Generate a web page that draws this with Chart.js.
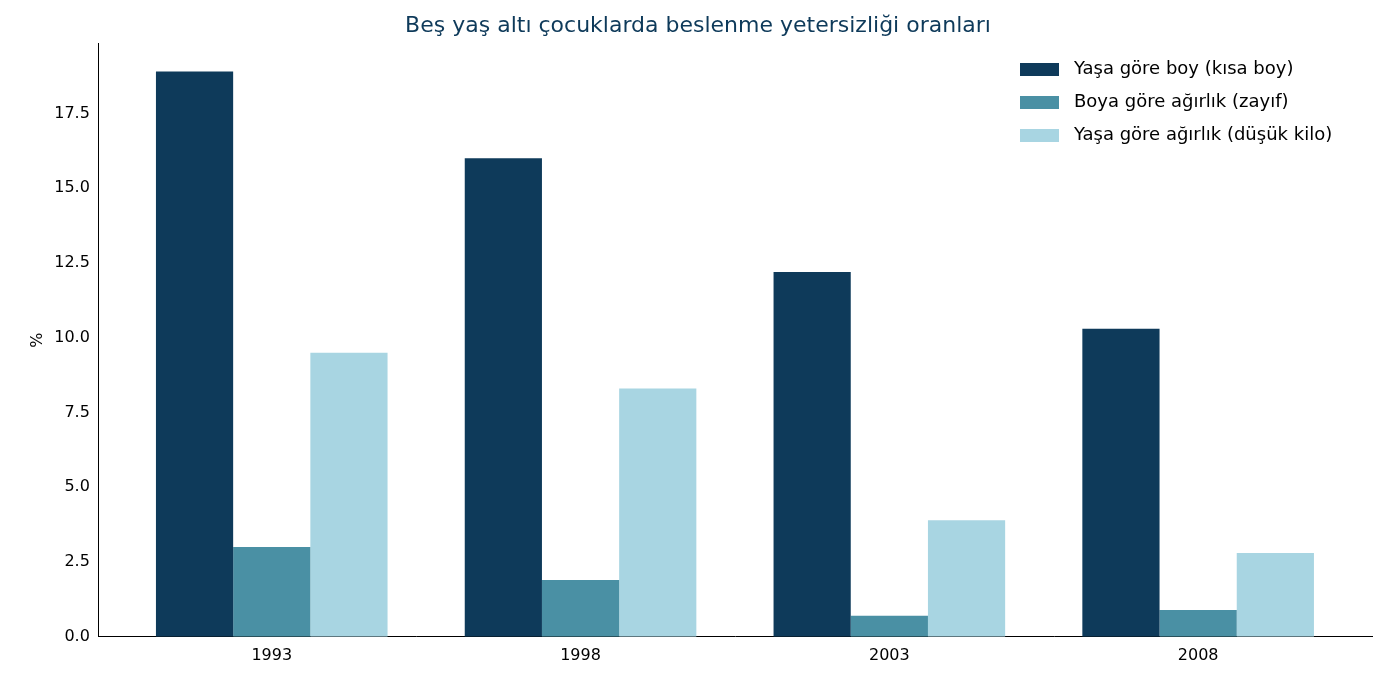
<!DOCTYPE html>
<html><head><meta charset="utf-8">
<script src="https://cdn.jsdelivr.net/npm/chart.js@4"></script>
<style>html,body{margin:0;background:#fff}#w{width:1385px;height:683px}</style></head>
<body><div id="w"><canvas id="c"></canvas></div>
<script>
const years = ['1993','1998','2003','2008'];
const stunting = [18.9, 16.0, 12.2, 10.3];
const wasting = [3.0, 1.9, 0.7, 0.9];
const underweight = [9.5, 8.3, 3.9, 2.8];
const seriesNames = ['Yaşa göre boy (kısa boy)','Boya göre ağırlık (zayıf)','Yaşa göre ağırlık (düşük kilo)'];
const colors = ['#0e3a5a','#4a90a4','#a8d5e2'];
const font = 'DejaVu Sans';
const toPts = a => a.map((v,i)=>({x:i,y:v}));
const legendPlugin = {id:'lg', afterDraw(ch){
  const c=ch.ctx; c.save(); c.font='18px "'+font+'"'; c.textBaseline='middle';
  seriesNames.forEach((n,i)=>{const y=69+i*33; c.fillStyle=colors[i]; c.fillRect(1020,y-6,39,13);
    c.fillStyle='#000'; c.fillText(n,1074,y);});
  c.restore();}};
new Chart(document.getElementById('c'),{type:'bar',
 data:{datasets:[stunting,wasting,underweight].map((d,i)=>({label:seriesNames[i],data:toPts(d),backgroundColor:colors[i]}))},
 plugins:[legendPlugin],
 options:{responsive:true,maintainAspectRatio:false,animation:false,
  categoryPercentage:0.75,barPercentage:1,
  layout:{padding:{top:3,right:13,left:24,bottom:15}},
  plugins:{legend:{display:false},tooltip:{enabled:false},
   title:{display:true,text:'Beş yaş altı çocuklarda beslenme yetersizliği oranları',color:'#0e3a5a',font:{family:font,size:22,weight:'normal'},padding:{top:10,bottom:4}}},
  scales:{
   x:{type:'linear',offset:false,bounds:'data',min:-0.56,max:3.563,grid:{display:false,offset:false,tickLength:6},border:{color:'#000'},
      afterBuildTicks(a){a.ticks=[0,1,2,3].map(v=>({value:v}));},
      ticks:{color:'#000',font:{family:font,size:16},callback:v=>years[v]}},
   y:{min:0,max:19.84,grid:{display:false,tickLength:6},border:{color:'#000'},
      afterBuildTicks(a){a.ticks=[0,2.5,5,7.5,10,12.5,15,17.5].map(v=>({value:v}));},
      ticks:{color:'#000',font:{family:font,size:16},callback:v=>v.toFixed(1)},
      title:{display:true,text:'%',color:'#000',font:{family:font,size:16}}}}}});
</script></body></html>
